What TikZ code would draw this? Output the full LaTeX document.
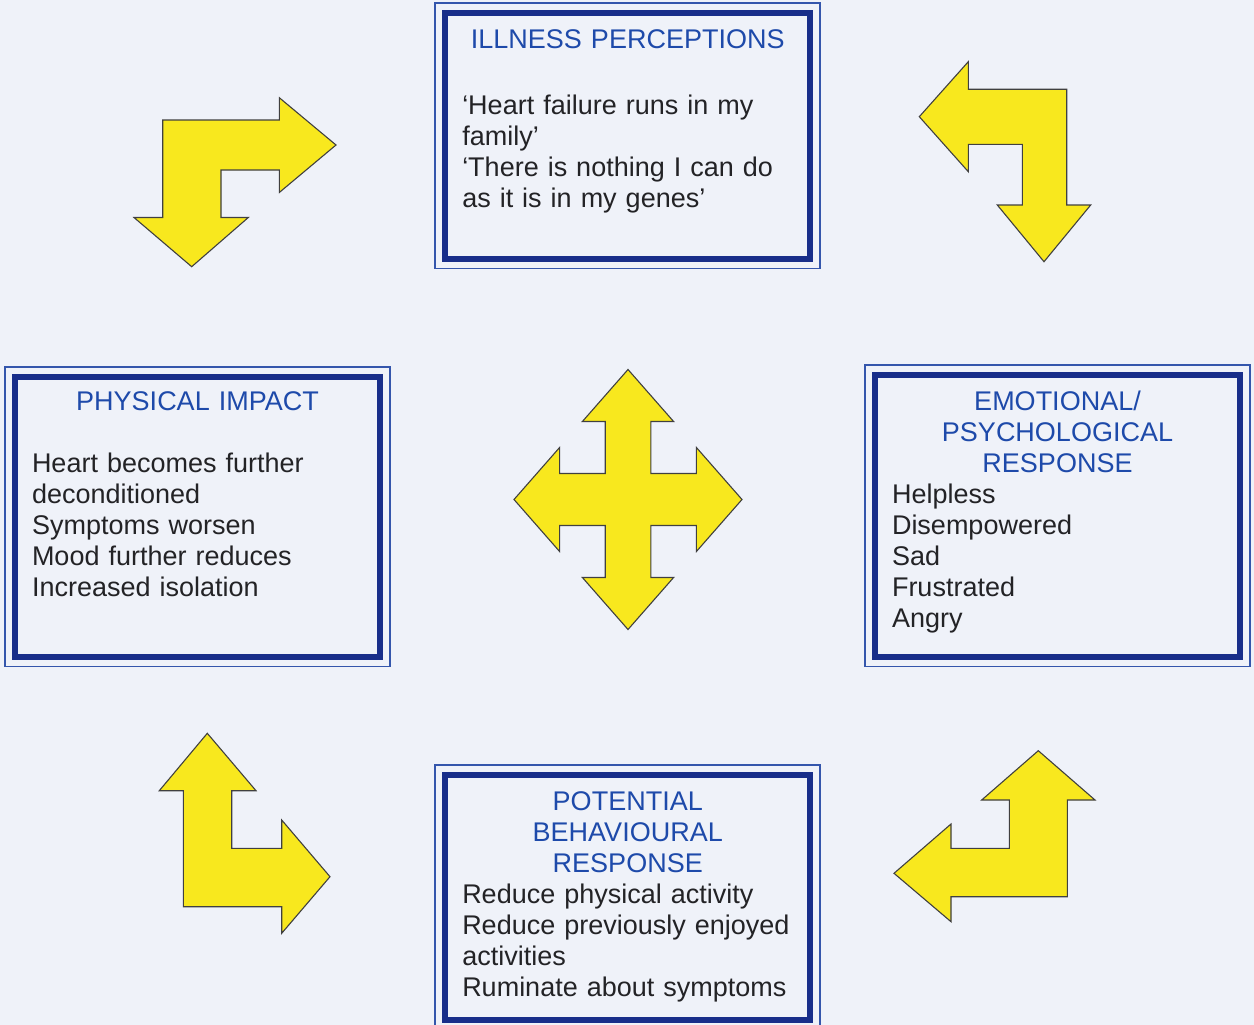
\documentclass[tikz,border=0pt]{standalone}
\usepackage{fontspec}
\setmainfont{Liberation Sans}
\usetikzlibrary{positioning}
\setlength{\parindent}{0pt}
\definecolor{pagebg}{RGB}{239,242,249}
\definecolor{framenavy}{RGB}{24,46,138}
\definecolor{framethin}{RGB}{52,86,172}
\definecolor{titleblue}{RGB}{30,74,170}
\definecolor{bodygrey}{RGB}{35,35,38}
\definecolor{arrowyellow}{RGB}{248,232,30}
\begin{document}
\begin{tikzpicture}[x=1pt, y=-1pt,
		every node/.style={font=\fontsize{27}{31}\selectfont},
		boxframe/.style={draw=framenavy, line width=6pt, fill=pagebg, inner sep=0pt,
			minimum width=365pt},
		outerline/.style={draw=framethin, line width=1.6pt},
		boxtext/.style={anchor=north, inner sep=0pt, text width=331pt, align=left,
			text=bodygrey},
		yellowarrow/.style={fill=arrowyellow, draw=black!75, line width=1.1pt,
			line join=miter}]
	\fill[pagebg] (0,0) rectangle (1254,1025);
	\useasboundingbox (0,0) rectangle (1254,1025);

	% the four boxes
	\node[boxframe, minimum height=245.5pt] (ill) at (627.75,135.75) {};
	\node[boxframe, minimum height=279.5pt] (phys) at (197.5,516.75) {};
	\node[boxframe, minimum height=281.5pt] (emo) at (1057.5,515.75) {};
	\node[boxframe, minimum height=245pt] (beh) at (627.75,897.5) {};
	\foreach \b in {ill,phys,emo,beh}
		\draw[outerline] ([xshift=-7pt,yshift=7pt]\b.north west) rectangle
			([xshift=7pt,yshift=-7pt]\b.south east);

	\node[boxtext, below=17pt of ill.north] (ill-txt) {\strut{\centering
			\color{titleblue}ILLNESS PERCEPTIONS\par}\vspace{35pt}
		‘Heart failure runs in my\\ family’\\ ‘There is nothing I can do\\
		as it is in my genes’};
	\node[boxtext, below=14.3pt of phys.north] (phys-txt) {\strut{\centering
			\color{titleblue}PHYSICAL IMPACT\par}\vspace{31pt}
		Heart becomes further\\ deconditioned\\ Symptoms worsen\\
		Mood further reduces\\ Increased isolation};
	\node[boxtext, below=16.6pt of emo.north] (emo-txt) {\strut{\centering
			\color{titleblue}EMOTIONAL/\\ PSYCHOLOGICAL\\ RESPONSE\par}
		Helpless\\ Disempowered\\ Sad\\ Frustrated\\ Angry};
	\node[boxtext, below=16.5pt of beh.north] (beh-txt) {\strut{\centering
			\color{titleblue}POTENTIAL\\ BEHAVIOURAL\\ RESPONSE\par}
		Reduce physical activity\\ Reduce previously enjoyed\\ activities\\
		Ruminate about symptoms};

	% bent arrows between the boxes
	\draw[yellowarrow] (162.7,120) -- (279.3,120) -- (279.3,97.7) -- (336,145)
		-- (279.3,192.5) -- (279.3,170) -- (221,170) -- (221,217.5) -- (248.3,217.5)
		-- (191.7,266.7) -- (134,217.5) -- (162.7,217.5) -- cycle;
	\draw[yellowarrow] (919.3,116.7) -- (968.3,61.7) -- (968.3,89.3) -- (1066.7,89.3)
		-- (1066.7,205) -- (1090.7,205) -- (1044,261.7) -- (997.3,205) -- (1022.3,205)
		-- (1022.3,144.3) -- (968.3,144.3) -- (968.3,171.7) -- cycle;
	\draw[yellowarrow] (207.3,733.3) -- (256,790.7) -- (231.7,790.7) -- (231.7,848.3)
		-- (281.7,848.3) -- (281.7,820) -- (330,876.7) -- (281.7,933.3) -- (281.7,906.7)
		-- (183.3,906.7) -- (183.3,790.7) -- (159.3,790.7) -- cycle;
	\draw[yellowarrow] (1038.3,750.7) -- (1095,800) -- (1067.3,800) -- (1067.3,896.7)
		-- (951,896.7) -- (951,921.7) -- (894,873.3) -- (951,824) -- (951,848.3)
		-- (1009.3,848.3) -- (1009.3,800) -- (981.7,800) -- cycle;

	% four-way arrow in the middle
	\begin{scope}[shift={(628,499.5)}, x=114pt, y=130pt]
		\draw[yellowarrow] (0,1) -- (0.4,0.6) -- (0.2,0.6) -- (0.2,0.2) -- (0.6,0.2)
			-- (0.6,0.4) -- (1,0) -- (0.6,-0.4) -- (0.6,-0.2) -- (0.2,-0.2) -- (0.2,-0.6)
			-- (0.4,-0.6) -- (0,-1) -- (-0.4,-0.6) -- (-0.2,-0.6) -- (-0.2,-0.2)
			-- (-0.6,-0.2) -- (-0.6,-0.4) -- (-1,0) -- (-0.6,0.4) -- (-0.6,0.2)
			-- (-0.2,0.2) -- (-0.2,0.6) -- (-0.4,0.6) -- cycle;
	\end{scope}
\end{tikzpicture}
\end{document}
